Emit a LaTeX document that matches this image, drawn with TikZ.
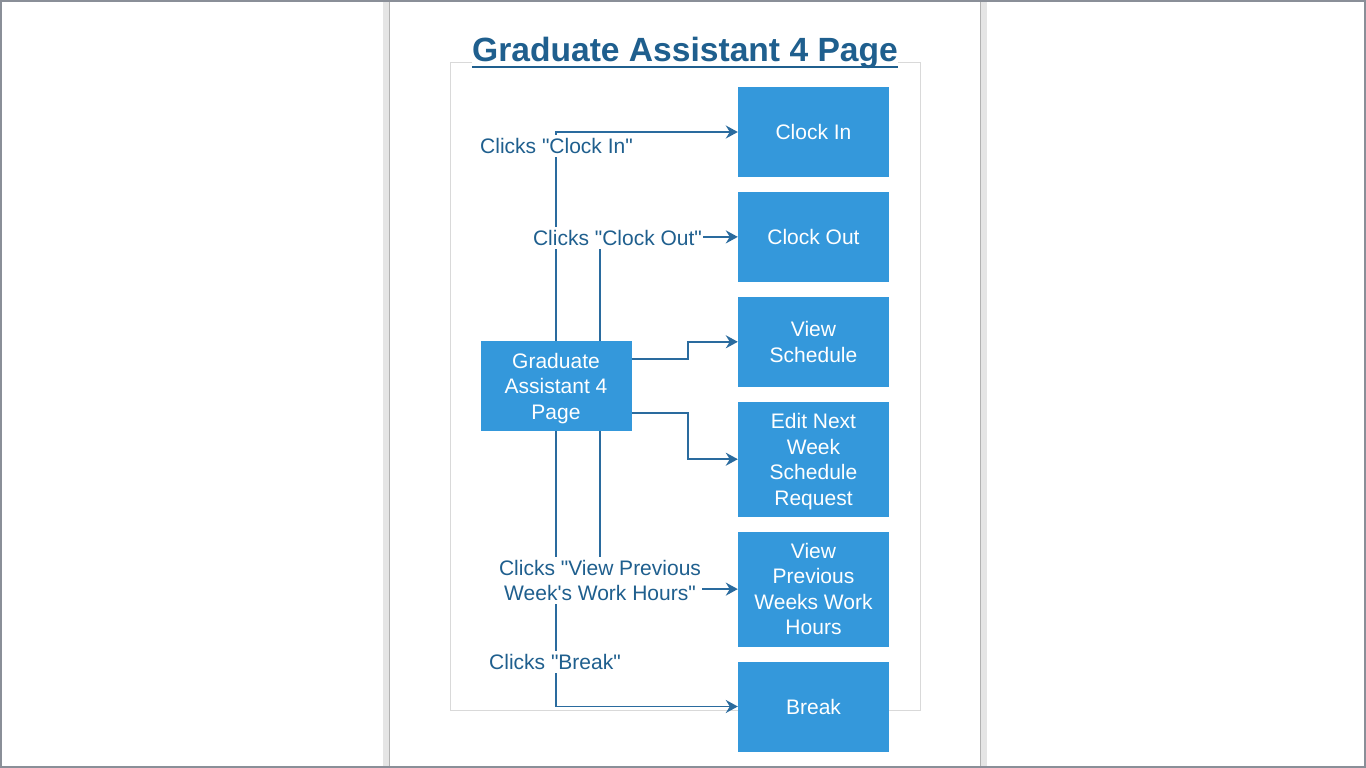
\documentclass[tikz,border=0pt]{standalone}
\usepackage{fontspec}
\setmainfont{Liberation Sans}[Ligatures=TeXOff]
\usetikzlibrary{arrows.meta,positioning}
\definecolor{BoxBlue}{HTML}{3498DB}
\definecolor{LinkBlue}{HTML}{2A6B9E}
\definecolor{TextBlue}{HTML}{1F5F8E}
\definecolor{FrameGray}{HTML}{8A8F98}
\definecolor{PageGray}{HTML}{D9D9D9}

\begin{document}
\begin{tikzpicture}[x=1pt,y=-1pt,node distance=14.5pt,
  every node/.style={font=\fontsize{21}{25.5}\selectfont,align=center},
  screen/.style={fill=BoxBlue,text=white,minimum width=151pt,minimum height=90pt,inner sep=2pt,text depth=0pt},
  tall/.style={screen,minimum height=115pt},
  link/.style={draw=LinkBlue,line width=1.9pt,-{Stealth[length=12pt,width=13pt,inset=4pt]}},
  clicklabel/.style={fill=white,text=TextBlue,inner xsep=1pt,inner ysep=3pt}]
% page and frame
\useasboundingbox (0,0) rectangle (1366,768);
\fill[white] (0,0) rectangle (1366,768);
\fill[gray!20] (383,0) rectangle (390,768);
\fill[gray!20] (980,0) rectangle (987,768);
\fill[white] (390,0) rectangle (980,768);
\draw[gray!60,line width=1pt] (389.5,0) -- (389.5,768);
\draw[gray!60,line width=1pt] (980.5,0) -- (980.5,768);
\draw[FrameGray,line width=2pt] (1,1) rectangle (1365,767);
\draw[PageGray,line width=1pt] (450.5,62.5) rectangle (920.5,710.5);
% title
\node[fill=white,text=TextBlue,font=\fontsize{33.6}{40}\bfseries,inner xsep=0pt,inner ysep=1pt,anchor=base] (title) at (685,62) {Graduate Assistant 4 Page};
\draw[TextBlue,line width=2.5pt] ([yshift=-5pt]title.base west) -- ([yshift=-5pt]title.base east);
% screens
\node[screen] (ga) at (556,386) {Graduate\\Assistant 4\\Page};
\node[screen] (clockin) at (813.5,132) {Clock In};
\node[screen,below=of clockin] (clockout) {Clock Out};
\node[screen,below=of clockout] (viewsched) {View\\Schedule};
\node[tall,below=of viewsched] (editsched) {Edit Next\\Week\\Schedule\\Request};
\node[tall,below=of editsched] (viewprev) {View\\Previous\\Weeks Work\\Hours};
\node[screen,below=of viewprev] (brk) {Break};
% links
\draw[link] (ga.north) |- (clockin.west);
\draw[link] ([xshift=44pt]ga.north) |- (clockout.west);
\draw[link] ([yshift=27pt]ga.east) -- ++(56,0) |- (viewsched.west);
\draw[link] ([yshift=-27pt]ga.east) -- ++(56,0) |- (editsched.west);
\draw[link] ([xshift=44pt]ga.south) |- (viewprev.west);
\draw[link] (ga.south) |- (brk.west);
% labels
\node[clicklabel] (lblin) at (556.5,146) {Clicks "Clock In"};
\node[clicklabel] (lblout) at (617.5,238) {Clicks "Clock Out"};
\node[clicklabel] (lblprev) at (600,580.5) {Clicks "View Previous\\Week's Work Hours"};
\node[clicklabel] (lblbrk) at (555,662) {Clicks "Break"};
\end{tikzpicture}
\end{document}
